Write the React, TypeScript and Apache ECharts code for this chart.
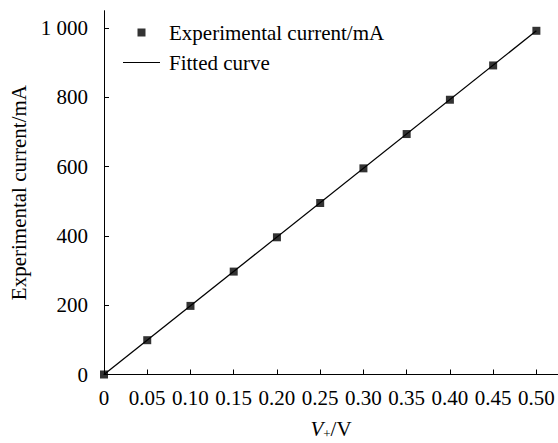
import React, { useEffect, useRef } from "react";
import * as echarts from "echarts";

const voltages = [0, 0.05, 0.1, 0.15, 0.2, 0.25, 0.3, 0.35, 0.4, 0.45, 0.5];
const currents = [0, 99, 198, 297, 396, 495, 595, 694, 793, 892, 992];
const fitVoltages = [0, 0.5];
const fitCurrents = [0, 992];
const xTicks = [0, 0.05, 0.1, 0.15, 0.2, 0.25, 0.3, 0.35, 0.4, 0.45, 0.5];
const yTicks = [0, 200, 400, 600, 800, 1000];

const FONT = "'Liberation Serif', 'Times New Roman', serif";
const FS = 21;

export default function App() {
  const ref = useRef<HTMLDivElement>(null);
  useEffect(() => {
    if (!ref.current) return;
    const chart = echarts.init(ref.current, undefined, { renderer: "svg" });
    chart.setOption({
      animation: false,
      backgroundColor: "#fff",
      textStyle: { fontFamily: FONT, color: "#000" },
      grid: { left: 104, top: 10.7, width: 454, height: 363.8, containLabel: false, outerBoundsMode: "none" },
      legend: {
        orient: "vertical",
        left: 123,
        top: 22,
        padding: 0,
        itemWidth: 37,
        itemHeight: 8,
        itemGap: 9,
        symbolKeepAspect: true,
        textStyle: { fontFamily: FONT, fontSize: FS, color: "#000", padding: [0, 0, 0, 4] },
        data: [
          { name: "Experimental current/mA", icon: "path://M0,0H8V8H0Z", itemStyle: { color: "#000" } },
          { name: "Fitted curve", icon: "path://M0,0H37V1.2H0Z", itemStyle: { color: "#000" } },
        ],
      },
      xAxis: {
        type: "value",
        min: 0,
        max: 0.525,
        splitLine: { show: false },
        axisLine: { lineStyle: { color: "#000", width: 1 } },
        axisTick: { inside: true, length: 5, lineStyle: { color: "#000" }, customValues: xTicks },
        axisLabel: {
          customValues: xTicks,
          margin: 13,
          fontFamily: FONT,
          fontSize: FS,
          color: "#000",
          formatter: (v: number) => (v === 0 ? "0" : v.toFixed(2)),
        },
        name: "{i|V}{s|+}{n|/V}",
        nameLocation: "middle",
        nameGap: 43,
        nameTextStyle: {
          fontFamily: FONT,
          fontSize: FS,
          color: "#000",
          rich: {
            i: { fontFamily: FONT, fontSize: FS, fontStyle: "italic", color: "#000" },
            s: { fontFamily: FONT, fontSize: 13, color: "#000", padding: [9, 0, 0, 0] },
            n: { fontFamily: FONT, fontSize: FS, color: "#000" },
          },
        },
      },
      yAxis: {
        type: "value",
        min: 0,
        max: 1050,
        splitLine: { show: false },
        axisLine: { show: true, lineStyle: { color: "#000", width: 1 } },
        axisTick: { show: true, inside: true, length: 5, lineStyle: { color: "#000" }, customValues: yTicks },
        axisLabel: {
          customValues: yTicks,
          margin: 16,
          fontFamily: FONT,
          fontSize: FS,
          color: "#000",
          formatter: (v: number) => (v >= 1000 ? "1 000" : String(v)),
        },
        name: "Experimental current/mA",
        nameLocation: "middle",
        nameGap: 70,
        nameTextStyle: { fontFamily: FONT, fontSize: FS, color: "#000" },
      },
      series: [
        {
          name: "Fitted curve",
          type: "line",
          data: fitVoltages.map((v, i) => [v, fitCurrents[i]]),
          symbol: "none",
          lineStyle: { color: "#000", width: 1.3 },
          itemStyle: { color: "#000" },
          z: 2,
        },
        {
          name: "Experimental current/mA",
          type: "scatter",
          data: voltages.map((v, i) => [v, currents[i]]),
          symbol: "rect",
          symbolSize: 8,
          itemStyle: { color: "#000" },
          z: 3,
        },
      ],
    });
    return () => chart.dispose();
  }, []);
  return (
    <div
      ref={ref}
      style={{ position: "fixed", left: 0, top: 0, width: 558, height: 443, background: "#fff" }}
    />
  );
}
